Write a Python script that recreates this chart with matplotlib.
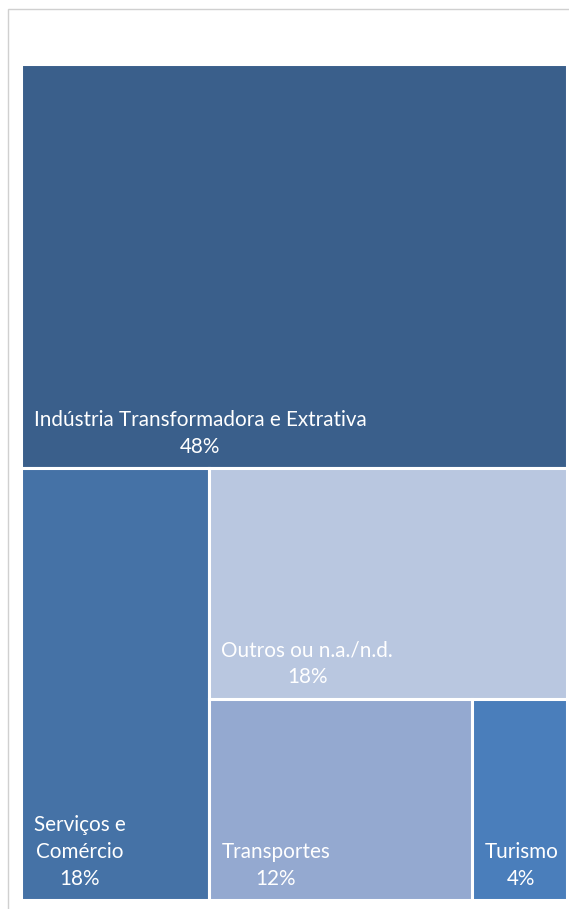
import matplotlib.pyplot as plt
from matplotlib.patches import Rectangle

# treemap data (share of total, %)
labels = ['Indústria Transformadora e Extrativa', 'Serviços e\nComércio',
          'Outros ou n.a./n.d.', 'Transportes', 'Turismo']
values = [48.3, 17.8, 18.1, 11.6, 4.2]
colors = ['#3A5F8B', '#4572A6', '#B9C7E0', '#94A9D0', '#4A7EBB']

W, H = 546.0, 836.0  # plot area in px, used as data units


def slice_layout(vals, x, y, w, h):
    # each item takes a slice along the longer side of what is left
    rects = []
    total = float(sum(vals))
    for v in vals:
        frac = v / total
        if h >= w:
            hh = h * frac
            rects.append((x, y + h - hh, w, hh))  # strip at top
            h -= hh
        else:
            ww = w * frac
            rects.append((x, y, ww, h))  # column at left
            x += ww
            w -= ww
        total -= v
    return rects


plt.rcParams['font.family'] = ['Lato', 'DejaVu Sans']
fig = plt.figure(figsize=(5.69, 9.09), dpi=100)

# light frame around the chart
fig.add_artist(Rectangle((8 / 569, -0.1), 1.2, 1.1 - 9 / 909, transform=fig.transFigure,
                         fill=False, edgecolor='#D0D0D0', linewidth=1.0))

ax = fig.add_axes([21 / 569, 9 / 909, W / 569, H / 909])
ax.set_xlim(0, W)
ax.set_ylim(0, H)
ax.axis('off')

for (x, y, w, h), lab, v, c in zip(slice_layout(values, 0, 0, W, H), labels, values, colors):
    ax.add_patch(Rectangle((x, y), w, h, facecolor=c, edgecolor='white', linewidth=2.2))
    ax.annotate(lab + '\n' + '%d%%' % round(v), xy=(x, y), xytext=(9, 8), textcoords='offset points',
                ha='left', va='bottom', multialignment='center', color='white',
                fontsize=14.9, linespacing=1.42)

fig.savefig('out.png', dpi=100)
